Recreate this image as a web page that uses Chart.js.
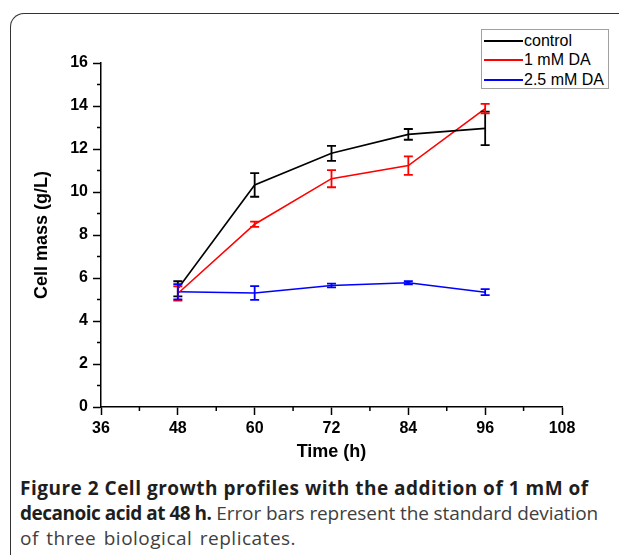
<!DOCTYPE html>
<html>
<head>
<meta charset="utf-8">
<script src="https://cdn.jsdelivr.net/npm/chart.js@4.4.1/dist/chart.umd.min.js"></script>
<style>
  html, body { margin: 0; padding: 0; background: #fff; }
  #page { position: relative; width: 619px; height: 555px; overflow: hidden; background: #fff; }
  #frame { position: absolute; left: 10px; top: 13px; width: 800px; height: 800px;
           border-top: 1.6px solid #333; border-left: 1.6px solid #333; border-top-left-radius: 14px; }
  #chartBox { position: absolute; left: 0; top: 0; width: 619px; height: 470px; }
  #legend { position: absolute; left: 481px; top: 29px; width: 126px; height: 58px;
            border: 1px solid #a0a0a0; background: #fff;
            font-family: "Liberation Sans", Arial, sans-serif; font-size: 16px; color: #000; }
  .lg-row { position: absolute; left: 2px; height: 19px; display: flex; align-items: center; white-space: nowrap; }
  .lg-line { display: inline-block; width: 39px; height: 2px; background: #000; margin-right: 1px; }
  #caption { position: absolute; left: 20px; top: 476px; width: 600px;
             font-family: "Open Sans", "Noto Sans", sans-serif; font-size: 19px; line-height: 25px; color: #404040; white-space: nowrap; letter-spacing: -0.1px; }
  #caption b { font-weight: 700; color: #1e1e1e; }
  #caption .l1 { letter-spacing: 0.5px; }
  #caption .l2 { letter-spacing: -0.5px; }
  #caption .l3 { letter-spacing: 0.5px; word-spacing: 2px; }
</style>
</head>
<body>
<div id="page">
  <div id="frame"></div>
  <div id="chartBox"><canvas id="c"></canvas></div>
  <div id="legend"></div>
  <div id="caption"><b class="l1">Figure 2 Cell growth profiles with the addition of 1 mM of</b><br><b class="l2">decanoic acid at 48 h.</b> Error bars represent the standard deviation<br><span class="l3">of three biological replicates.</span></div>
</div>
<script>
// ---- data ----
const times = [48, 60, 72, 84, 96];
const seriesNames = ["control", "1 mM DA", "2.5 mM DA"];
const control   = [5.50, 10.33, 11.80, 12.68, 12.96];
const controlSD = [0.35, 0.55, 0.35, 0.25, 0.78];
const da1       = [5.28, 8.50, 10.62, 11.23, 13.88];
const da1SD     = [0.33, 0.12, 0.40, 0.43, 0.22];
const da25      = [5.36, 5.30, 5.65, 5.78, 5.34];
const da25SD    = [0.35, 0.32, 0.09, 0.07, 0.14];
const xTicks = [36, 48, 60, 72, 84, 96, 108];
const yTicks = [0, 2, 4, 6, 8, 10, 12, 14, 16];

const colors = ["#000000", "#ff0000", "#0000ff"];
const values = [control, da1, da25];
const errs = [controlSD, da1SD, da25SD];

const tickFont = { family: "'Liberation Sans', Arial, sans-serif", size: 16, weight: "bold" };
const titleFont = { family: "'Liberation Sans', Arial, sans-serif", size: 18, weight: "bold" };

const errorBars = {
  id: "errorBars",
  afterDatasetsDraw(chart) {
    const { ctx, scales: { x, y } } = chart;
    ctx.save();
    chart.data.datasets.forEach((ds) => {
      ctx.strokeStyle = ds.borderColor;
      ctx.lineWidth = 1.8;
      ds.data.forEach((p, i) => {
        const e = ds.errors[i];
        const px = x.getPixelForValue(p.x);
        const yt = y.getPixelForValue(p.y + e);
        const yb = y.getPixelForValue(p.y - e);
        ctx.beginPath();
        ctx.moveTo(px, yt); ctx.lineTo(px, yb);
        ctx.moveTo(px - 4.5, yt); ctx.lineTo(px + 4.5, yt);
        ctx.moveTo(px - 4.5, yb); ctx.lineTo(px + 4.5, yb);
        ctx.stroke();
      });
    });
    ctx.restore();
  }
};

const minorTicks = {
  id: "minorTicks",
  afterDraw(chart) {
    const { ctx, scales: { x, y } } = chart;
    ctx.save();
    ctx.strokeStyle = "#000";
    ctx.lineWidth = 1.5;
    ctx.beginPath();
    for (let i = 0; i < xTicks.length - 1; i++) {
      const v = (xTicks[i] + xTicks[i + 1]) / 2;
      const px = x.getPixelForValue(v);
      ctx.moveTo(px, y.bottom); ctx.lineTo(px, y.bottom + 4);
    }
    for (let i = 0; i < yTicks.length - 1; i++) {
      const v = (yTicks[i] + yTicks[i + 1]) / 2;
      const py = y.getPixelForValue(v);
      ctx.moveTo(x.left, py); ctx.lineTo(x.left - 4, py);
    }
    ctx.stroke();
    ctx.restore();
  }
};

const datasets = seriesNames.map((name, k) => ({
  label: name,
  data: times.map((t, i) => ({ x: t, y: values[k][i] })),
  errors: errs[k],
  borderColor: colors[k],
  backgroundColor: colors[k],
  borderWidth: 1.6,
  pointRadius: 0,
  tension: 0,
  fill: false
}));

const chart = new Chart(document.getElementById("c"), {
  type: "line",
  data: { datasets },
  plugins: [errorBars, minorTicks],
  options: {
    responsive: true,
    maintainAspectRatio: false,
    animation: false,
    layout: { padding: { left: 0, top: 63, right: 57, bottom: 0 } },
    plugins: { legend: { display: false }, tooltip: { enabled: false } },
    scales: {
      x: {
        type: "linear",
        min: xTicks[0], max: xTicks[xTicks.length - 1],
        afterBuildTicks: (s) => { s.ticks = xTicks.map(v => ({ value: v })); },
        afterFit: (s) => { s.height = 63; },
        ticks: { color: "#000", font: tickFont, padding: 4, maxRotation: 0, autoSkip: false },
        grid: { drawOnChartArea: false, tickLength: 8, tickWidth: 1.5, tickColor: "#000" },
        border: { display: true, color: "#000", width: 1.5 },
        title: { display: true, text: "Time (h)", color: "#000", font: titleFont, padding: { top: 0, bottom: 7 } }
      },
      y: {
        type: "linear",
        min: yTicks[0], max: yTicks[yTicks.length - 1],
        afterBuildTicks: (s) => { s.ticks = yTicks.map(v => ({ value: v })); },
        afterFit: (s) => { s.width = 101; },
        ticks: { color: "#000", font: tickFont, padding: 5, autoSkip: false },
        grid: { drawOnChartArea: false, tickLength: 8, tickWidth: 1.5, tickColor: "#000" },
        border: { display: true, color: "#000", width: 1.5 },
        title: { display: true, text: "Cell mass (g/L)", color: "#000", font: titleFont, padding: { top: 31, bottom: 0 } }
      }
    }
  }
});

// HTML legend built from the chart's datasets
const legend = document.getElementById("legend");
chart.data.datasets.forEach((ds, i) => {
  const row = document.createElement("div");
  row.className = "lg-row";
  row.style.top = (1 + i * 19.5) + "px";
  const ln = document.createElement("span");
  ln.className = "lg-line";
  ln.style.background = ds.borderColor;
  const tx = document.createElement("span");
  tx.textContent = ds.label;
  row.appendChild(ln); row.appendChild(tx);
  legend.appendChild(row);
});
</script>
</body>
</html>
